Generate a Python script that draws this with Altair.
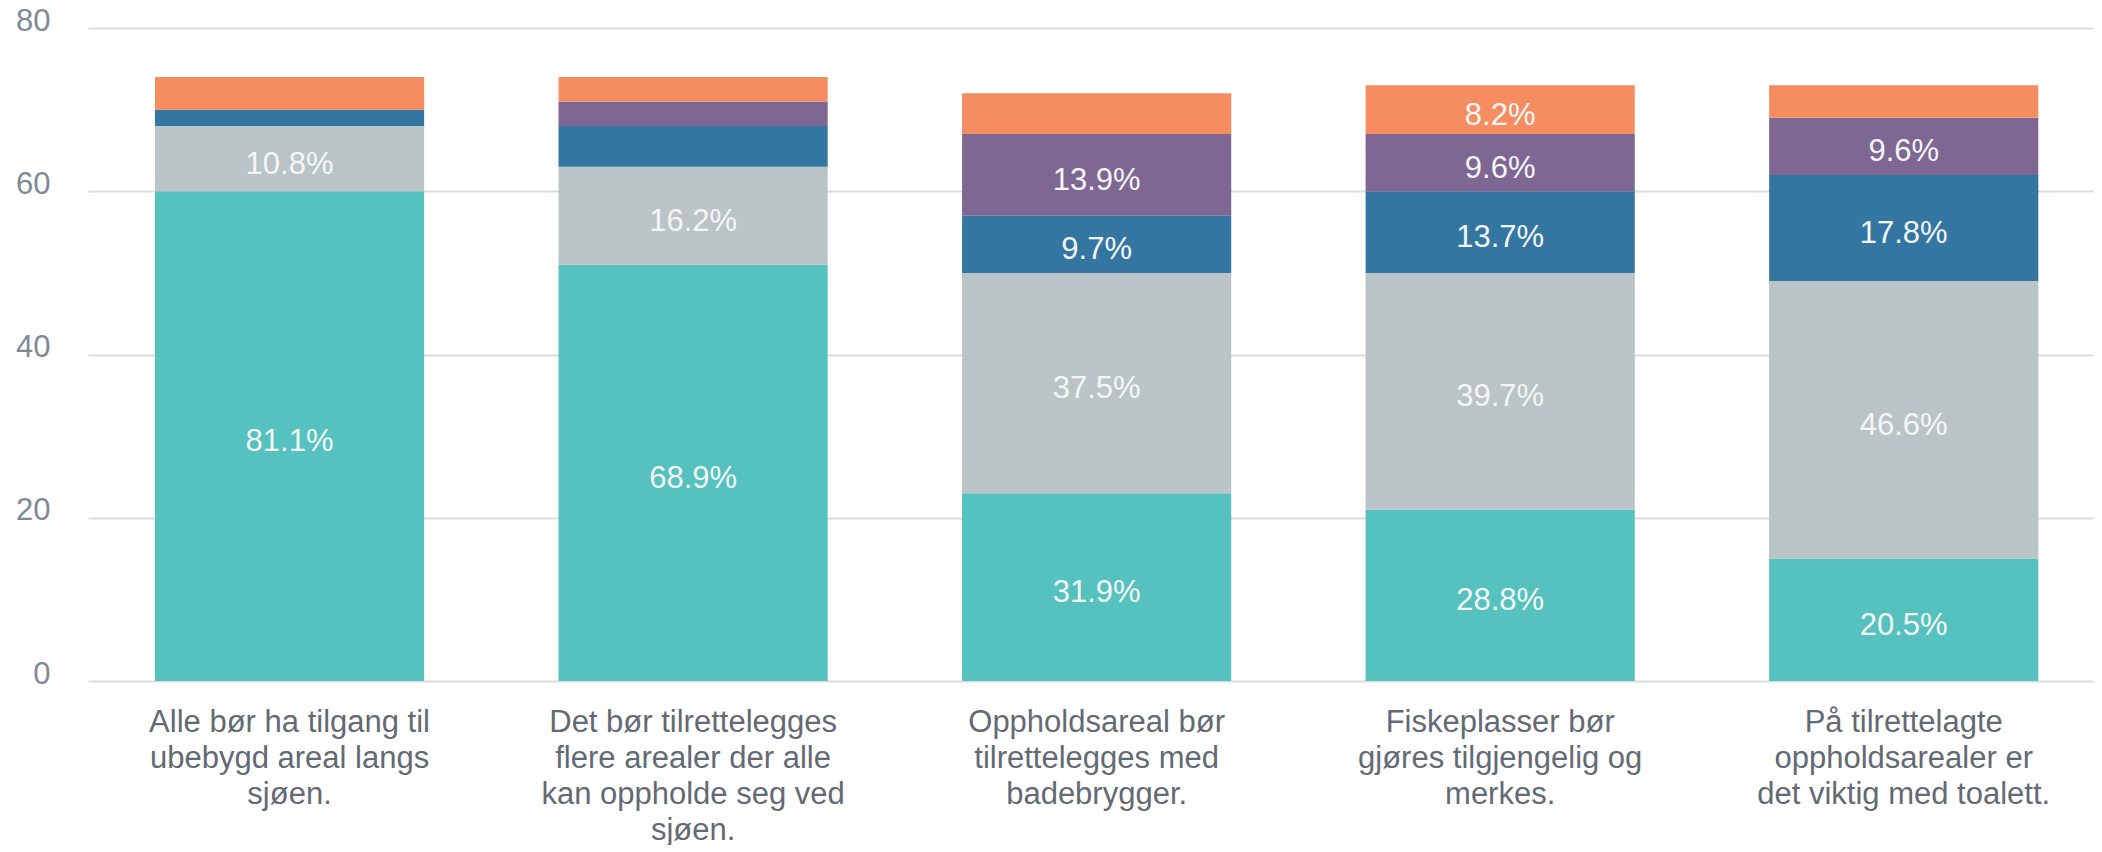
import altair as alt
import pandas as pd

categories = [
    "Alle bør ha tilgang til|ubebygd areal langs|sjøen.",
    "Det bør tilrettelegges|flere arealer der alle|kan oppholde seg ved|sjøen.",
    "Oppholdsareal bør|tilrettelegges med|badebrygger.",
    "Fiskeplasser bør|gjøres tilgjengelig og|merkes.",
    "På tilrettelagte|oppholdsarealer er|det viktig med toalett.",
]
series = ["Helt enig", "Delvis enig", "Verken enig eller uenig", "Delvis uenig", "Helt uenig"]
colors = ["#56c2bf", "#bac4c6", "#3476a2", "#7f6794", "#f68d61"]

helt_enig = [60, 51, 23, 21, 15]
delvis_enig = [8, 12, 27, 29, 34]
verken = [2, 5, 7, 10, 13]
delvis_uenig = [0, 3, 10, 7, 7]
helt_uenig = [4, 3, 5, 6, 4]

values = [helt_enig, delvis_enig, verken, delvis_uenig, helt_uenig]

rows = []
for si, s in enumerate(series):
    for ci, c in enumerate(categories):
        rows.append({"cat": c, "series": s, "ord": si, "value": values[si][ci]})
df = pd.DataFrame(rows)

FONT = "Liberation Sans"

x_enc = alt.X(
    "cat:N",
    sort=categories,
    scale=alt.Scale(paddingInner=0.333, paddingOuter=0.152, align=0.546),
    axis=alt.Axis(
        title=None, domain=False, ticks=False, tickSize=0, labelAngle=0,
        labelExpr="split(datum.label, '|')", labelFontSize=31, labelFont=FONT,
        labelColor="#636a73", labelLineHeight=36, labelPadding=26,
        labelBaseline="top", grid=False, labelLimit=500,
    ),
)

bars = alt.Chart(df).mark_bar(strokeWidth=0).encode(
    x=x_enc,
    y=alt.Y(
        "value:Q", stack="zero",
        scale=alt.Scale(domain=[0, 80], nice=False),
        axis=alt.Axis(
            title=None, values=[0, 20, 40, 60, 80], domain=False, ticks=False, tickSize=0,
            labelFontSize=31, labelFont=FONT, labelColor="#7f8a96", labelPadding=38,
            labelBaseline="alphabetic", labelOffset=2,
            gridColor="#dcdcdc", gridWidth=2,
        ),
    ),
    color=alt.Color("series:N", scale=alt.Scale(domain=series, range=colors), legend=None),
    order=alt.Order("ord:Q", sort="ascending"),
)

labels = alt.Chart(df).transform_joinaggregate(
    total="sum(value)", groupby=["cat"]
).transform_stack(
    stack="value", groupby=["cat"], as_=["y0", "y1"], sort=[alt.SortField("ord", order="ascending")]
).transform_calculate(
    mid="(datum.y0 + datum.y1) / 2",
    pct="datum.value / datum.total",
).transform_filter(
    "datum.pct >= 0.075"
).mark_text(
    font=FONT, fontSize=31, color="#f4f6f6", baseline="middle", dy=6
).encode(
    x=alt.X("cat:N", sort=categories),
    y=alt.Y("mid:Q"),
    text=alt.Text("pct:Q", format=".1%"),
)

chart = alt.layer(bars, labels).properties(
    width=2006, height=653,
    autosize=alt.AutoSizeParams(type="none"),
    padding={"left": 80, "top": 20, "right": 0, "bottom": 164},
).configure_view(stroke=None)

chart.save("out.html", embed_options={"renderer": "svg", "actions": False})
